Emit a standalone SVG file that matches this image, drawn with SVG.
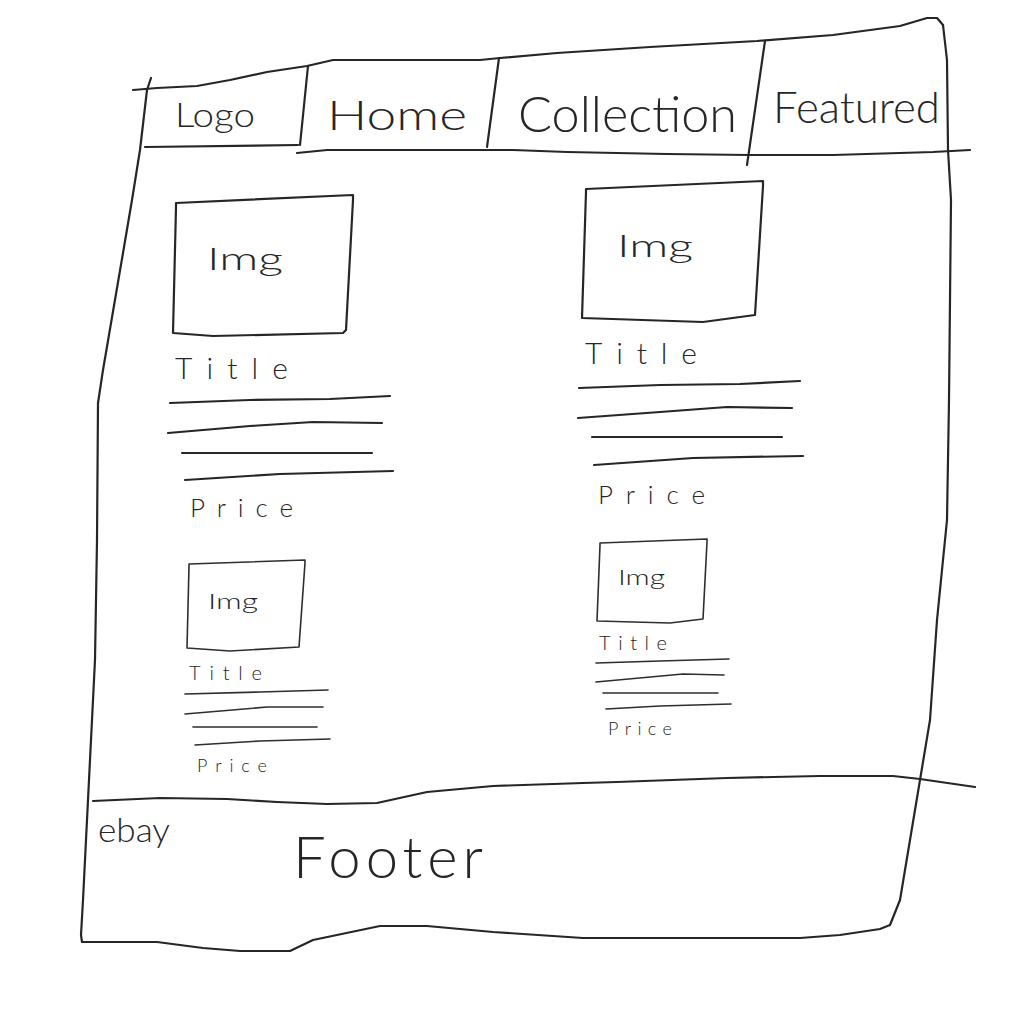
<svg xmlns="http://www.w3.org/2000/svg" width="1036" height="1016" viewBox="0 0 1036 1016">
  <style>
    .ink { fill: none; stroke: #262626; stroke-width: 2.2; stroke-linecap: round; stroke-linejoin: round; }
    .thin { fill: none; stroke: #2e2e2e; stroke-width: 1.6; stroke-linecap: round; stroke-linejoin: round; }
    .hand { font-family: Lato, "Liberation Sans", Arial, sans-serif; fill: #262626; font-weight: 300; }
  </style>
  <rect width="1036" height="1016" fill="#ffffff"/>

  <!-- Page frame -->
  <g id="frame">
    <!-- top edge -->
    <path class="ink" d="M133 90 L157 88 L197 86 L230 80 L267 72 L307 66 L333 60 L480 60 L500 58 L557 53 L650 47 L757 41 L833 35 L900 26 L927 18 L937 18 L943 25"/>
    <!-- right edge, running round into the bottom edge -->
    <path class="ink" d="M943 25 L947 60 L948 150 L951 200 L949 400 L947 520 L937 620 L930 720 L920 780 L915 810 L910 840 L900 900 L890 925 L880 929 L840 935 L800 938 L583 938 L493 932 L427 926 L380 926 L313 940 L290 951 L240 951 L203 948 L157 942 L82 942"/>
    <!-- left edge -->
    <path class="ink" d="M151 78 L147 90 L140 150 L132 200 L123 253 L103 370 L98 403 L97 540 L95 660 L88 800 L85 860 L83 900 L81 935 L82 942"/>
  </g>

  <!-- Navigation bar -->
  <g id="nav">
    <path class="ink" d="M308 66 L300 145"/>
    <path class="ink" d="M145 147 L298 145"/>
    <path class="ink" d="M297 153 L327 150 L380 150 L513 150 L567 152 L667 154 L750 155 L833 155 L933 152 L970 150"/>
    <path class="ink" d="M499 58 L487 147"/>
    <path class="ink" d="M765 41 L747 165"/>
    <text class="hand" x="175" y="127" font-size="34" textLength="80" lengthAdjust="spacingAndGlyphs">Logo</text>
    <text class="hand" x="327" y="130" font-size="42" textLength="140" lengthAdjust="spacingAndGlyphs">Home</text>
    <text class="hand" x="518" y="132" font-size="50" textLength="219" lengthAdjust="spacingAndGlyphs">Collection</text>
    <text class="hand" x="773" y="123" font-size="44" textLength="167" lengthAdjust="spacingAndGlyphs">Featured</text>
  </g>

  <!-- Product card, large, left -->
  <g id="card-large-left">
    <path class="ink" d="M176 207 L176 203 L353 195 L353 200 L346 330 L343 333 L213 336 L173 333 L176 207"/>
    <text class="hand" x="207" y="270" font-size="32" textLength="76" lengthAdjust="spacingAndGlyphs">Img</text>
    <text class="hand" x="175" y="379" font-size="30" textLength="113" lengthAdjust="spacing">Title</text>
    <path class="ink" d="M170 403 L250 400 L330 399 L390 396"/>
    <path class="ink" d="M168 433 L250 426 L313 422 L382 423"/>
    <path class="ink" d="M182 453 L372 453"/>
    <path class="ink" d="M185 480 L280 474 L393 471"/>
    <text class="hand" x="190" y="517" font-size="26" textLength="103" lengthAdjust="spacing">Price</text>
  </g>

  <!-- Product card, large, right -->
  <g id="card-large-right">
    <path class="ink" d="M586 192 L586 189 L763 181 L763 186 L755 315 L703 322 L582 318 L586 192"/>
    <text class="hand" x="617" y="257" font-size="32" textLength="76" lengthAdjust="spacingAndGlyphs">Img</text>
    <text class="hand" x="585" y="364" font-size="30" textLength="112" lengthAdjust="spacing">Title</text>
    <path class="ink" d="M579 388 L660 385 L740 384 L800 381"/>
    <path class="ink" d="M578 418 L660 412 L727 407 L792 408"/>
    <path class="ink" d="M592 437 L782 437"/>
    <path class="ink" d="M594 465 L693 458 L803 456"/>
    <text class="hand" x="598" y="504" font-size="26" textLength="107" lengthAdjust="spacing">Price</text>
  </g>

  <!-- Product card, small, left -->
  <g id="card-small-left">
    <path class="thin" d="M189 566 L189 564 L305 560 L305 563 L299 647 L230 651 L187 648 L189 566"/>
    <text class="hand" x="208" y="609" font-size="22" textLength="50" lengthAdjust="spacingAndGlyphs">Img</text>
    <text class="hand" x="189" y="680" font-size="20" textLength="73" lengthAdjust="spacing">Title</text>
    <path class="thin" d="M185 694 L260 692 L328 690"/>
    <path class="thin" d="M185 714 L267 707 L323 707"/>
    <path class="thin" d="M193 727 L317 727"/>
    <path class="thin" d="M195 745 L260 741 L330 739"/>
    <text class="hand" x="197" y="772" font-size="18" textLength="70" lengthAdjust="spacing">Price</text>
  </g>

  <!-- Product card, small, right -->
  <g id="card-small-right">
    <path class="thin" d="M600 545 L600 543 L707 539 L707 542 L703 619 L670 623 L597 621 L600 545"/>
    <text class="hand" x="618" y="585" font-size="22" textLength="47" lengthAdjust="spacingAndGlyphs">Img</text>
    <text class="hand" x="599" y="650" font-size="20" textLength="68" lengthAdjust="spacing">Title</text>
    <path class="thin" d="M596 663 L660 661 L729 659"/>
    <path class="thin" d="M596 682 L683 674 L724 675"/>
    <path class="thin" d="M603 693 L718 693"/>
    <path class="thin" d="M606 709 L660 706 L731 704"/>
    <text class="hand" x="608" y="735" font-size="18" textLength="64" lengthAdjust="spacing">Price</text>
  </g>

  <!-- Footer -->
  <g id="footer">
    <path class="ink" d="M93 801 L160 798 L227 799 L277 802 L327 804 L377 803 L427 792 L493 786 L583 783 L617 782 L727 778 L820 776 L893 776 L920 779 L975 787"/>
    <text class="hand" x="98" y="842" font-size="34" textLength="72" lengthAdjust="spacingAndGlyphs">ebay</text>
    <text class="hand" x="293" y="878" font-size="58" textLength="190" lengthAdjust="spacing">Footer</text>
  </g>
</svg>
